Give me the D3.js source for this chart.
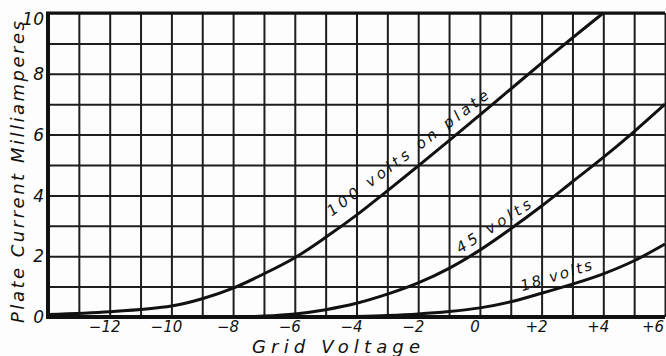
<!DOCTYPE html>
<html>
<head>
<meta charset="utf-8">
<script src="https://cdn.jsdelivr.net/npm/d3@7"></script>
<style>
  body { margin: 0; background: #fdfdfd; }
  svg { display: block; font-family: "DejaVu Sans", "Liberation Sans", sans-serif; }
  .grid line { stroke: #1e1e1e; stroke-width: 2; }
  .grid path { display: none; }
  .curve { fill: none; stroke: #111; stroke-width: 3; }
  .lbl { font-style: italic; fill: #111; }
</style>
</head>
<body>
<div id="chart-area"></div>
<script>
// grid volts (x) and plate current in mA (y)
const gridV100 = [-14, -12, -10, -9, -8, -7, -6, -5, -4, -3, -2, -1, 0, 1, 2, 3, 4];
const plateMA100 = [0.08, 0.17, 0.36, 0.6, 0.95, 1.42, 1.95, 2.62, 3.35, 4.15, 4.97, 5.8, 6.65, 7.5, 8.35, 9.18, 10.0];

const gridV45 = [-8, -7, -6, -5, -4, -3, -2, -1, 0, 1, 2, 3, 4, 5, 6];
const plateMA45 = [0, 0.03, 0.1, 0.24, 0.45, 0.75, 1.12, 1.6, 2.2, 2.9, 3.65, 4.45, 5.25, 6.1, 7.0];

const gridV18 = [-5, -4, -3, -2, -1, 0, 1, 2, 3, 4, 5, 6];
const plateMA18 = [0, 0.02, 0.05, 0.1, 0.18, 0.3, 0.5, 0.78, 1.08, 1.42, 1.85, 2.4];

const xTickLabels = ['−12', '−10', '−8', '−6', '−4', '−2', '0', '+2', '+4', '+6'];
const xTickValues = [-12, -10, -8, -6, -4, -2, 0, 2, 4, 6];
const yTickValues = [0, 2, 4, 6, 8, 10];

const curveNames = ['100 volts on plate', '45 volts', '18 volts'];

const margin = { top: 13, right: 1, bottom: 39, left: 48 };
const width = 666 - margin.left - margin.right;
const height = 356 - margin.top - margin.bottom;

const svg = d3.select('#chart-area')
    .append('svg')
    .attr('width', 666)
    .attr('height', 356);

const chart = svg.append('g')
    .attr('transform', `translate(${margin.left},${margin.top})`);

const x = d3.scaleLinear().domain([-14, 6]).range([0, width]);
const y = d3.scaleLinear().domain([0, 10]).range([height, 0]);

// grid, one line per volt and per mA
chart.append('g')
    .attr('class', 'grid')
    .attr('transform', `translate(0,${height})`)
    .call(d3.axisBottom(x).tickValues(d3.range(-14, 7)).tickSize(-height).tickFormat(''));

chart.append('g')
    .attr('class', 'grid')
    .call(d3.axisLeft(y).tickValues(d3.range(0, 11)).tickSize(-width).tickFormat(''));

// heavy frame
chart.append('line').attr('x1', -2).attr('x2', width).attr('y1', 0).attr('y2', 0)
    .attr('stroke', '#111').attr('stroke-width', 3);
chart.append('line').attr('x1', 0).attr('x2', 0).attr('y1', -1).attr('y2', height + 2)
    .attr('stroke', '#111').attr('stroke-width', 4);
chart.append('line').attr('x1', -2).attr('x2', width).attr('y1', height).attr('y2', height)
    .attr('stroke', '#111').attr('stroke-width', 4);

// tick labels
chart.selectAll('.xlab')
    .data(xTickValues)
    .enter().append('text')
    .attr('class', 'lbl')
    .attr('x', (d) => x(d) - (d === 6 ? 12 : 5))
    .attr('y', height + 15)
    .attr('text-anchor', 'middle')
    .attr('font-size', 15)
    .text((d, i) => xTickLabels[i]);

chart.selectAll('.ylab')
    .data(yTickValues)
    .enter().append('text')
    .attr('class', 'lbl')
    .attr('x', -4)
    .attr('y', (d) => y(d) + (d === 10 ? 6 : 0))
    .attr('dy', '0.36em')
    .attr('text-anchor', 'end')
    .attr('font-size', 17)
    .text((d) => d);

// axis titles
svg.append('text')
    .attr('class', 'lbl')
    .attr('x', 336)
    .attr('y', 353)
    .attr('text-anchor', 'middle')
    .attr('font-size', 18)
    .attr('textLength', 168)
    .attr('lengthAdjust', 'spacing')
    .text('Grid Voltage');

svg.append('text')
    .attr('class', 'lbl')
    .attr('transform', 'translate(24,172) rotate(-90)')
    .attr('text-anchor', 'middle')
    .attr('font-size', 18)
    .attr('textLength', 302)
    .attr('lengthAdjust', 'spacing')
    .text('Plate Current Milliamperes');

// curves
const line = d3.line()
    .x((d) => x(d[0]))
    .y((d) => y(d[1]))
    .curve(d3.curveCatmullRom.alpha(0.5));

const series = [
    d3.zip(gridV100, plateMA100),
    d3.zip(gridV45, plateMA45),
    d3.zip(gridV18, plateMA18)
];

chart.selectAll('.curve')
    .data(series)
    .enter().append('path')
    .attr('class', 'curve')
    .attr('d', line);

// curve labels, anchored in data units
const labelAnchors = [
    { v: -4.8, ma: 3.3, angle: -37, len: 198 },
    { v: -0.64, ma: 2.08, angle: -33, len: 86 },
    { v: 1.37, ma: 0.85, angle: -17, len: 74 }
];

chart.selectAll('.curvelab')
    .data(labelAnchors)
    .enter().append('text')
    .attr('class', 'lbl')
    .attr('transform', (d) => `translate(${x(d.v)},${y(d.ma)}) rotate(${d.angle})`)
    .attr('font-size', 15)
    .attr('textLength', (d) => d.len)
    .attr('lengthAdjust', 'spacing')
    .text((d, i) => curveNames[i]);
</script>
</body>
</html>
